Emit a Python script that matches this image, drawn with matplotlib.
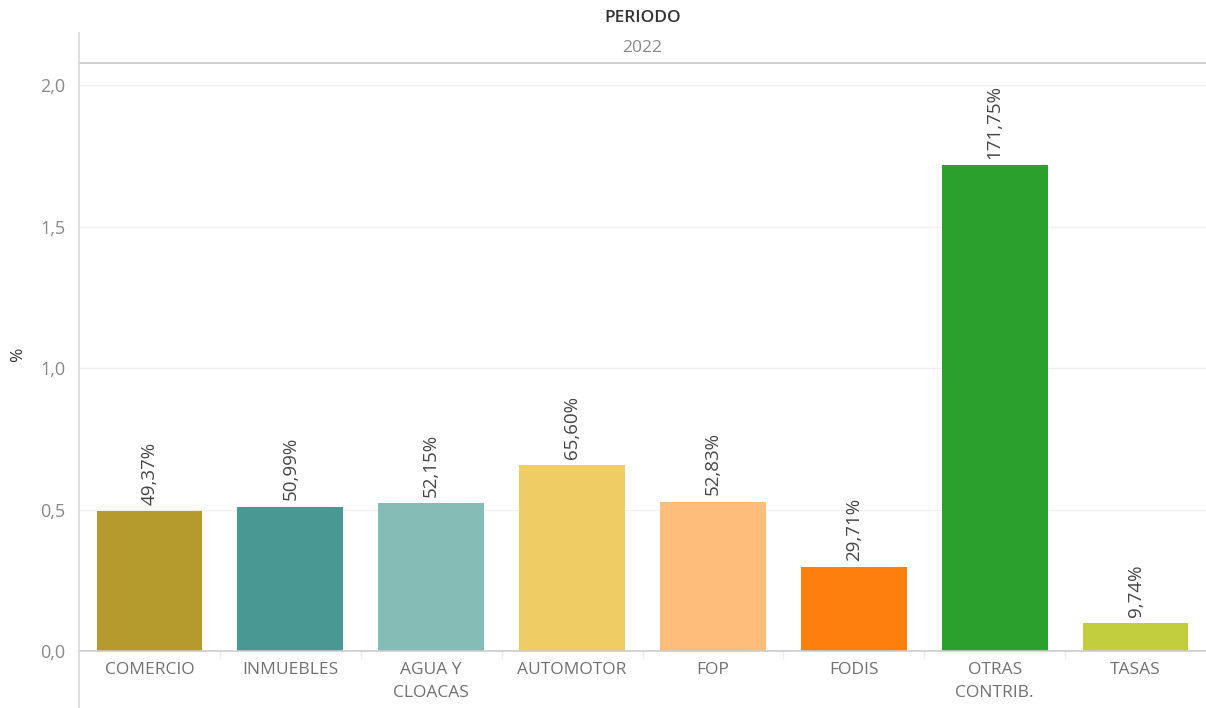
import matplotlib
matplotlib.use("Agg")
import matplotlib.pyplot as plt
from matplotlib.lines import Line2D

categories = ["COMERCIO", "INMUEBLES", "AGUA Y\nCLOACAS", "AUTOMOTOR", "FOP", "FODIS", "OTRAS\nCONTRIB.", "TASAS"]
values = [0.4937, 0.5099, 0.5215, 0.6560, 0.5283, 0.2971, 1.7175, 0.0974]
labels = ["49,37%", "50,99%", "52,15%", "65,60%", "52,83%", "29,71%", "171,75%", "9,74%"]
colors = ["#B59A2E", "#499894", "#86BCB6", "#F0CD64", "#FFBD7C", "#FF7F0E", "#2CA02C", "#C3CE3E"]
yticks = [0.0, 0.5, 1.0, 1.5, 2.0]
ytick_labels = ["0,0", "0,5", "1,0", "1,5", "2,0"]

plt.rcParams['font.family'] = ['Open Sans', 'DejaVu Sans']

W, H = 1206, 708
fig = plt.figure(figsize=(W / 100, H / 100), dpi=100)
ax_left, ax_right, ax_top, ax_bottom = 79, 1206, 63, 651
ax = fig.add_axes([ax_left / W, 1 - ax_bottom / H, (ax_right - ax_left) / W, (ax_bottom - ax_top) / H])

x = list(range(len(categories)))
ax.bar(x, values, width=0.75, color=colors, zorder=3)
for xi, v, lab in zip(x, values, labels):
    ax.annotate(lab, (xi, v), xytext=(0, 4.5), textcoords="offset points",
                rotation=90, ha="center", va="bottom", fontsize=13.5, color="#444444", zorder=4)

ax.set_xlim(-0.5, len(categories) - 0.5)
ax.set_ylim(0, 2.078)
ax.set_yticks(yticks)
ax.set_yticklabels(ytick_labels, fontsize=13, color="#888888")
ax.set_xticks(x)
ax.set_xticklabels(categories, fontsize=12.5, color="#707070", linespacing=1.55)
ax.tick_params(axis="y", length=0, pad=10)
ax.tick_params(axis="x", length=0, pad=8)
# minor ticks at category boundaries
ax.set_xticks([i + 0.5 for i in range(len(categories) - 1)], minor=True)
ax.tick_params(axis="x", which="minor", length=6, color="#eeeeee", width=1)

ax.grid(axis="y", color="#f0f0f0", linewidth=1, zorder=0)
for s in ["top", "right", "left"]:
    ax.spines[s].set_visible(False)
ax.spines["bottom"].set_color("#cccccc")
ax.spines["bottom"].set_linewidth(1.2)
ax.spines["bottom"].set_zorder(5)

# header
fig.add_artist(Line2D([ax_left / W, 1], [1 - 63 / H] * 2, color="#c8c8c8", linewidth=1.2))
fig.add_artist(Line2D([ax_left / W] * 2, [0, 1 - 33 / H], color="#d8d8d8", linewidth=1.2))
cx = (ax_left + ax_right) / 2 / W
fig.text(cx, 1 - 18 / H, "PERIODO", ha="center", va="center", fontsize=12.5, color="#333333", fontweight="semibold")
fig.text(cx, 1 - 48 / H, "2022", ha="center", va="center", fontsize=12.5, color="#888888")
fig.text(18 / W, 1 - 355 / H, "%", ha="center", va="center", rotation=90, fontsize=12.5, color="#333333")

fig.savefig("out.png", dpi=100)
